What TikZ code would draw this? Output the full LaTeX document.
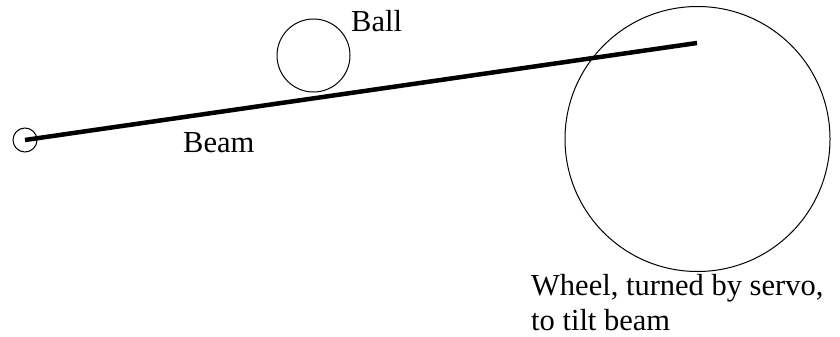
\documentclass[tikz,border=0pt]{standalone}
\usepackage{fontspec}
\setmainfont{Liberation Serif}
\begin{document}
\begin{tikzpicture}[x=1pt,y=-1pt,
  thin circ/.style={draw, line width=1pt},
  lbl/.style={inner sep=0pt, font=\fontsize{30.5}{35}\selectfont, anchor=base west}]
\useasboundingbox (0,0) rectangle (840,337);
\coordinate (pivot) at (25,140);
\coordinate (tip) at (697,43);
\node[thin circ, circle, minimum size=24pt, inner sep=0pt] (pin) at (pivot) {};
\node[thin circ, circle, minimum size=73pt, inner sep=0pt] (ball) at (313.5,55.5) {};
\node[thin circ, circle, minimum size=265pt, inner sep=0pt] (wheel) at (697.5,139) {};
\draw[line width=4.5pt] (pivot) -- (tip);
\node[lbl] (balllbl) at (351,32) {Ball};
\node[lbl] (beamlbl) at (183,152) {Beam};
\node[lbl] (wheellbl) at (531,295) {Wheel, turned by servo,};
\node[lbl] (wheellbl2) at (531,330) {to tilt beam};
\end{tikzpicture}
\end{document}
